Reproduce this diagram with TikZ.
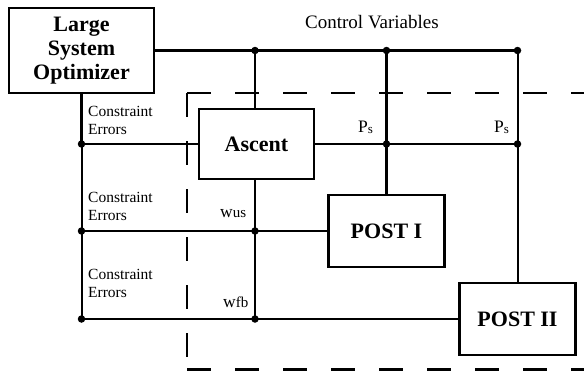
\documentclass[tikz,border=0pt]{standalone}
\usepackage{fontspec}
\setmainfont{Liberation Serif}
\begin{document}
\begin{tikzpicture}[x=1pt,y=-1pt,
  block/.style={draw,line width=2.6pt,rectangle,inner sep=0pt,
    font=\fontsize{22}{24}\selectfont\bfseries,align=center},
  wire/.style={line width=2pt},
  heavy/.style={line width=2.8pt},
  bound/.style={line width=2.5pt,dash pattern=on 24pt off 24pt},
  jdot/.style={circle,fill=black,inner sep=0pt,minimum size=7.5pt},
  lbl/.style={inner sep=0pt,anchor=base west,align=left,
    font=\fontsize{15.5}{17.5}\selectfont},
  sig/.style={inner sep=0pt,anchor=base west,font=\fontsize{17.5}{18}\selectfont}]
\useasboundingbox (0,0) rectangle (584,370);

% dashed boundary of the subsystem
\draw[bound] (187,93) -- (600,93);
\draw[bound] (187,93) -- (187,369.5);
\draw[bound] (187,369.5) -- (600,369.5);

% blocks
\node[block,minimum width=145pt,minimum height=85pt] (lso) at (81.5,50.5)
  {Large\\System\\Optimizer};
\node[block,minimum width=115pt,minimum height=70pt] (asc) at (256.5,144) {Ascent};
\node[block,minimum width=116pt,minimum height=72pt] (p1) at (386.5,231) {POST I};
\node[block,minimum width=116pt,minimum height=72pt] (p2) at (517.5,319) {POST II};

% junctions
\coordinate (j1) at (255,50.5);
\coordinate (j2) at (386.5,50.5);
\coordinate (j3) at (517.5,50.5);
\coordinate (k1) at (81.5,144);
\coordinate (k2) at (386.5,144);
\coordinate (k3) at (517.5,144);
\coordinate (m1) at (81.5,231);
\coordinate (m2) at (255,231);
\coordinate (n1) at (81.5,319);
\coordinate (n2) at (255,319);

% control variables bus
\draw[heavy] (lso.east) -- (j3);
\draw[wire] (j1) -- (j1 |- asc.north);
\draw[heavy] (j2) -- (p1.north);
\draw[wire] (j3) -- (p2.north);

% P_s bus
\draw[wire] (asc.east) -- (k3);

% constraint errors
\draw[heavy] (lso.south) -- (k1);
\draw[wire] (k1) -- (n1);
\draw[wire] (k1) -- (asc.west);
\draw[wire] (m1) -- (m2);
\draw[heavy] (m2) -- (p1.west);
\draw[wire] (n1) -- (p2.west);
\draw[heavy] (asc.south -| m2) -- (m2);
\draw[wire] (m2) -- (n2);

% junction dots
\foreach \p in {j1,j2,j3,k1,k2,k3,m1,m2,n1,n2}
  \node[jdot] at (\p) {};

% labels (base anchor sits on the last line)
\node[inner sep=0pt,anchor=base west,font=\fontsize{19}{20}\selectfont] (cv) at (305,28)
  {Control Variables};
\node[lbl] (ce1) at (88,134) {Constraint\\Errors};
\node[lbl] (ce2) at (88,220) {Constraint\\Errors};
\node[lbl] (ce3) at (88,297) {Constraint\\Errors};
\node[sig] (ps1) at (358,132) {P\raisebox{-1pt}{\fontsize{13}{13}\selectfont s}};
\node[sig] (ps2) at (494,132) {P\raisebox{-1pt}{\fontsize{13}{13}\selectfont s}};
\node[sig] (wus) at (220,217) {w\raisebox{-0.5pt}{\fontsize{15}{15}\selectfont us}};
\node[sig] (wfb) at (223,307) {w\raisebox{-0.5pt}{\fontsize{15}{15}\selectfont fb}};
\end{tikzpicture}
\end{document}
